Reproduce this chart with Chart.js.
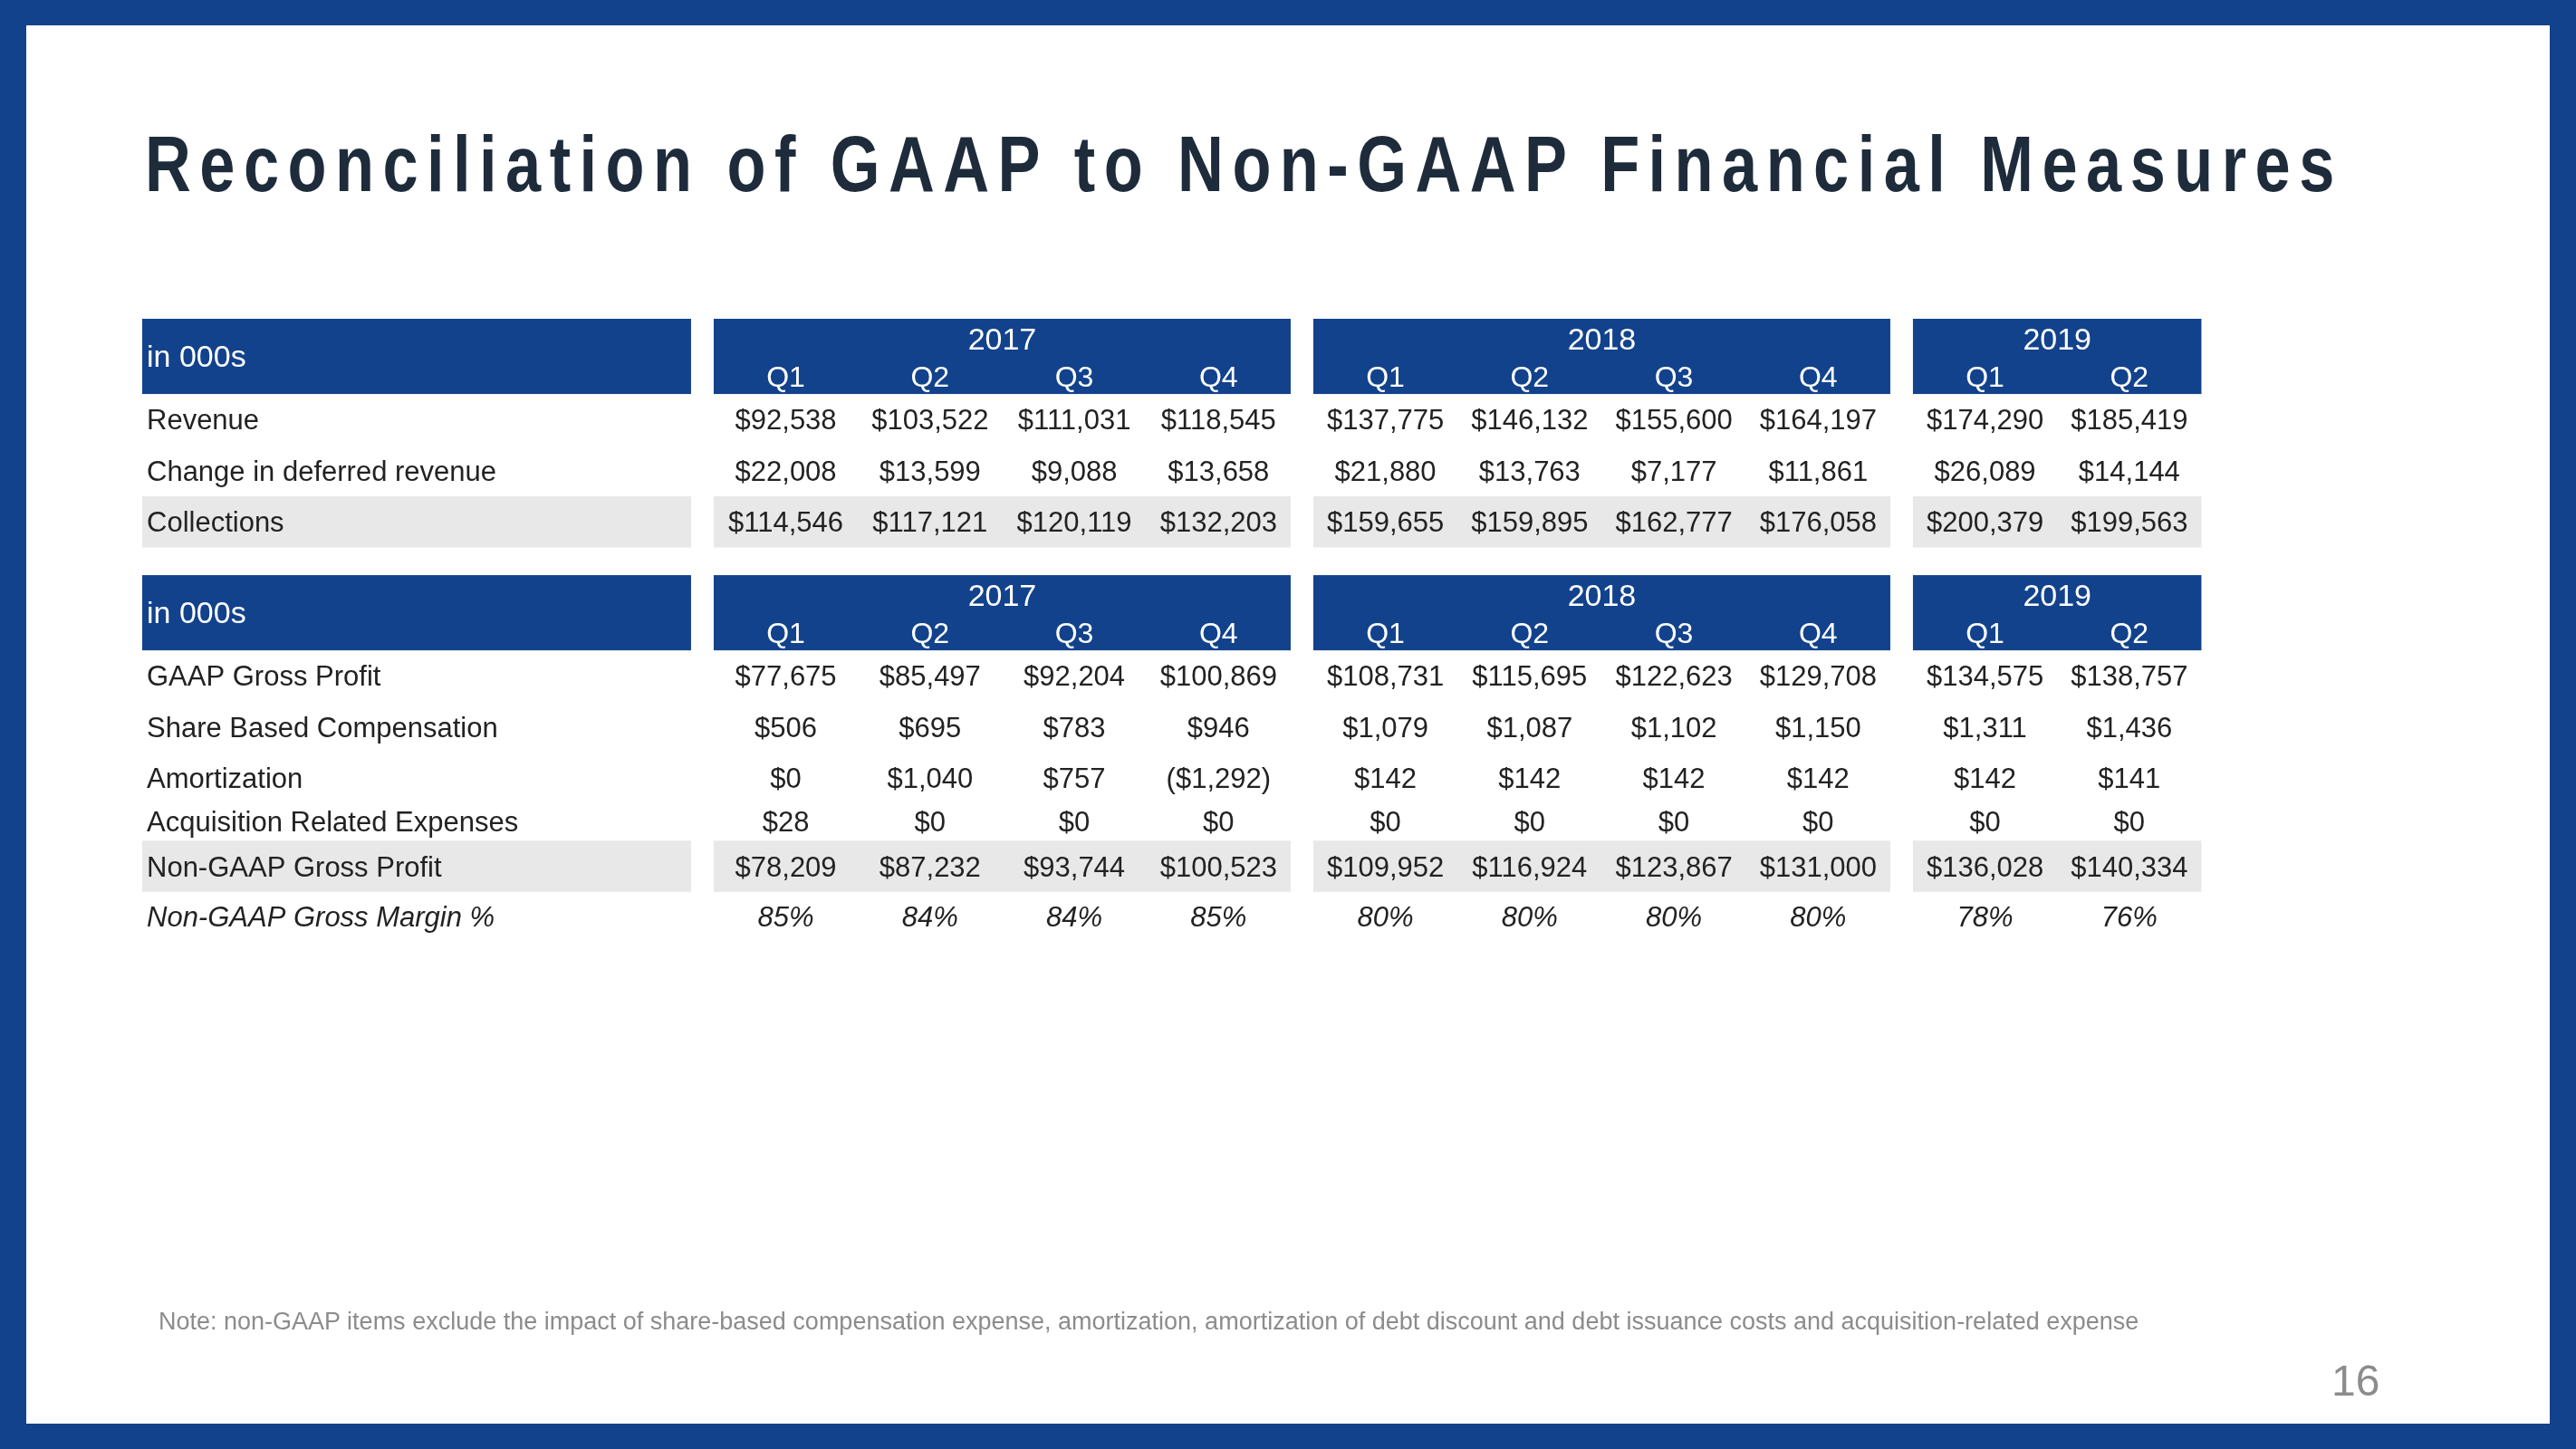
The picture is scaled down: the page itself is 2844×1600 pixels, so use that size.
<!DOCTYPE html>
<html>
<head>
<meta charset="utf-8">
<script src="https://cdn.jsdelivr.net/npm/chart.js@4.4.0/dist/chart.umd.min.js"></script>
<style>
  html, body { margin: 0; padding: 0; }
  body { width: 2844px; height: 1600px; background: #12428c; position: relative; overflow: hidden;
         font-family: "Liberation Sans", Arial, sans-serif; }
  #slide { position: absolute; left: 29px; top: 28px; width: 2786px; height: 1544px; background: #fff; }
  #chart { position: absolute; left: 0; top: 0; width: 2844px; height: 1600px; }
  #title { position: absolute; left: 160px; top: 137px; font-weight: bold; font-size: 88px; line-height: 88px;
           color: #1e2b3b; white-space: nowrap; transform: scaleX(0.8); transform-origin: 0 0; }
  #note { position: absolute; left: 175px; top: 1446px; font-size: 27px; line-height: 27px; color: #8c8c8c; white-space: nowrap; }
  #page { position: absolute; left: 2574px; top: 1501px; font-size: 48px; line-height: 48px; color: #8c8c8c; }
</style>
</head>
<body>
<div id="slide"></div>
<canvas id="chart" width="2844" height="1600"></canvas>
<div id="title">Reconciliation of GAAP to Non-GAAP Financial Measures</div>
<div id="note">Note: non-GAAP items exclude the impact of share-based compensation expense, amortization, amortization of debt discount and debt issuance costs and acquisition-related expense</div>
<div id="page">16</div>
<script>
// --- data ---
const years = ['2017', '2018', '2019'];
const quartersPerYear = [4, 4, 2];
const quarters = ['Q1', 'Q2', 'Q3', 'Q4', 'Q1', 'Q2', 'Q3', 'Q4', 'Q1', 'Q2'];
const unitLabel = 'in 000s';

const revenue = [92538, 103522, 111031, 118545, 137775, 146132, 155600, 164197, 174290, 185419];
const deferredRevenue = [22008, 13599, 9088, 13658, 21880, 13763, 7177, 11861, 26089, 14144];
const collections = [114546, 117121, 120119, 132203, 159655, 159895, 162777, 176058, 200379, 199563];

const gaapGrossProfit = [77675, 85497, 92204, 100869, 108731, 115695, 122623, 129708, 134575, 138757];
const shareBasedComp = [506, 695, 783, 946, 1079, 1087, 1102, 1150, 1311, 1436];
const amortization = [0, 1040, 757, -1292, 142, 142, 142, 142, 142, 141];
const acquisitionExpenses = [28, 0, 0, 0, 0, 0, 0, 0, 0, 0];
const nonGaapGrossProfit = [78209, 87232, 93744, 100523, 109952, 116924, 123867, 131000, 136028, 140334];
const nonGaapMargin = [85, 84, 84, 85, 80, 80, 80, 80, 78, 76];

// --- layout (in column / row units, mapped by the scales) ---
const LABEL_W = 3.805;   // width of the label column, in quarter-column units
const GAP = 0.157;       // white gap between blocks
const HDR = 1.47;        // header height, in row units
const TABLE_TOPS = [0, 5.01];

const money = v => v < 0 ? '($' + Math.abs(v).toLocaleString('en-US') + ')' : '$' + v.toLocaleString('en-US');
const pct = v => v + '%';

// left edge of every quarter column and the year blocks
const colLeft = [];
const blocks = [];
let x = LABEL_W + GAP;
quartersPerYear.forEach((n, g) => {
  blocks.push({ year: years[g], from: x, to: x + n });
  for (let q = 0; q < n; q++) colLeft.push(x + q);
  x += n + GAP;
});
const tableRight = blocks[blocks.length - 1].to;

const tables = [
  { top: TABLE_TOPS[0], rows: [
    { label: 'Revenue', values: revenue, fmt: money, off: 0 },
    { label: 'Change in deferred revenue', values: deferredRevenue, fmt: money, off: 1 },
    { label: 'Collections', values: collections, fmt: money, off: 2, band: true },
  ]},
  { top: TABLE_TOPS[1], rows: [
    { label: 'GAAP Gross Profit', values: gaapGrossProfit, fmt: money, off: 0 },
    { label: 'Share Based Compensation', values: shareBasedComp, fmt: money, off: 1 },
    { label: 'Amortization', values: amortization, fmt: money, off: 2 },
    { label: 'Acquisition Related Expenses', values: acquisitionExpenses, fmt: money, off: 2.85 },
    { label: 'Non-GAAP Gross Profit', values: nonGaapGrossProfit, fmt: money, off: 3.72, band: true },
    { label: 'Non-GAAP Gross Margin %', values: nonGaapMargin, fmt: pct, off: 4.70, italic: true },
  ]},
];

const datasets = [];
tables.forEach(t => {
  t.rows.forEach(r => {
    const y = t.top + HDR + 0.5 + r.off;
    datasets.push({
      label: r.label,
      data: r.values.map((v, i) => ({ x: colLeft[i] + 0.5, y: y, v: v })),
      fmt: r.fmt, italic: !!r.italic, band: !!r.band,
      pointRadius: 0, showLine: false
    });
  });
});

const FONT = '"Liberation Sans", Arial, sans-serif';
const BLUE = '#12428c';

const tablePlugin = {
  id: 'table',
  beforeDatasetsDraw(chart) {
    const { ctx, scales: { x: xs, y: ys } } = chart;
    ctx.save();
    // gray bands
    chart.data.datasets.forEach(ds => {
      if (!ds.band) return;
      const y0 = ys.getPixelForValue(ds.data[0].y - 0.5);
      const y1 = ys.getPixelForValue(ds.data[0].y + 0.5);
      ctx.fillStyle = '#e8e8e8';
      ctx.fillRect(xs.getPixelForValue(0), y0, xs.getPixelForValue(LABEL_W) - xs.getPixelForValue(0), y1 - y0);
      blocks.forEach(b => {
        ctx.fillRect(xs.getPixelForValue(b.from), y0, xs.getPixelForValue(b.to) - xs.getPixelForValue(b.from), y1 - y0);
      });
    });
    // headers
    tables.forEach(t => {
      const y0 = ys.getPixelForValue(t.top);
      const y1 = ys.getPixelForValue(t.top + HDR);
      ctx.fillStyle = BLUE;
      ctx.fillRect(xs.getPixelForValue(0), y0, xs.getPixelForValue(LABEL_W) - xs.getPixelForValue(0), y1 - y0);
      blocks.forEach(b => {
        ctx.fillRect(xs.getPixelForValue(b.from), y0, xs.getPixelForValue(b.to) - xs.getPixelForValue(b.from), y1 - y0);
      });
      ctx.fillStyle = '#ffffff';
      ctx.font = '34px ' + FONT;
      ctx.textBaseline = 'alphabetic';
      ctx.textAlign = 'left';
      ctx.fillText(unitLabel, xs.getPixelForValue(0) + 5, ys.getPixelForValue(t.top + 0.93));
      ctx.textAlign = 'center';
      ctx.font = '34px ' + FONT;
      blocks.forEach(b => {
        ctx.fillText(b.year, xs.getPixelForValue((b.from + b.to) / 2), ys.getPixelForValue(t.top + 0.6));
      });
      ctx.font = '32px ' + FONT;
      quarters.forEach((q, i) => {
        ctx.fillText(q, xs.getPixelForValue(colLeft[i] + 0.5), ys.getPixelForValue(t.top + 1.33));
      });
    });
    ctx.restore();
  },
  afterDatasetsDraw(chart) {
    const { ctx, scales: { x: xs } } = chart;
    ctx.save();
    ctx.fillStyle = '#222222';
    ctx.textBaseline = 'alphabetic';
    chart.data.datasets.forEach((ds, di) => {
      const meta = chart.getDatasetMeta(di);
      ctx.font = (ds.italic ? 'italic ' : '') + '31px ' + FONT;
      const yb = meta.data[0].y + 11;
      ctx.textAlign = 'left';
      ctx.fillText(ds.label, xs.getPixelForValue(0) + 5, yb);
      ctx.textAlign = 'center';
      meta.data.forEach((pt, i) => {
        ctx.fillText(ds.fmt(ds.data[i].v), pt.x, pt.y + 11);
      });
    });
    ctx.restore();
  }
};

new Chart(document.getElementById('chart'), {
  type: 'scatter',
  data: { datasets },
  options: {
    responsive: false,
    animation: false,
    devicePixelRatio: 1,
    layout: { padding: { left: 157, top: 352, right: 2844 - 157 - tableRight * 159.25, bottom: 1600 - 352 - 12 * 56.5 } },
    scales: {
      x: { type: 'linear', display: false, min: 0, max: tableRight },
      y: { type: 'linear', display: false, min: 0, max: 12, reverse: true }
    },
    plugins: { legend: { display: false }, tooltip: { enabled: false } }
  },
  plugins: [tablePlugin]
});

// condensed, spaced-out title stretched to the reference width
const title = document.getElementById('title');
const w = title.offsetWidth;
const n = title.textContent.length - 1;
title.style.letterSpacing = Math.max(0, (2417 / 0.8 - w) / n) + 'px';
</script>
</body>
</html>
